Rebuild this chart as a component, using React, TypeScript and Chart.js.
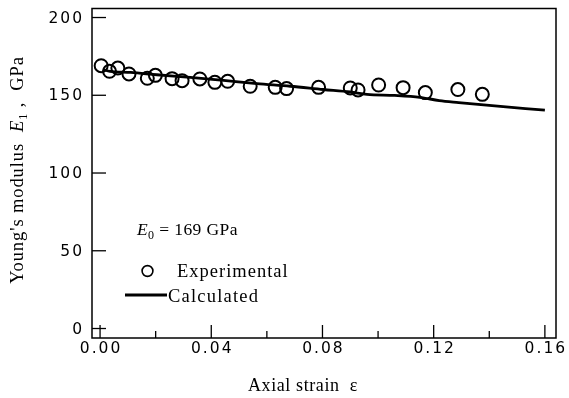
import React, { useEffect, useRef } from "react";
import { Chart, registerables } from "chart.js";
Chart.register(...registerables);

// Experimental points (axial strain, Young's modulus in GPa)
const expStrain = [0.0004, 0.0034, 0.0064, 0.0104, 0.017, 0.0199, 0.0259, 0.0295, 0.0359, 0.0413, 0.0459, 0.054, 0.063, 0.0671, 0.0786, 0.09, 0.0928, 0.1002, 0.109, 0.117, 0.1287, 0.1375];
const expModulus = [169.0, 165.4, 167.5, 163.7, 160.9, 162.8, 160.7, 159.4, 160.5, 158.3, 159.0, 155.8, 155.1, 154.3, 155.1, 154.7, 153.4, 156.6, 154.9, 151.7, 153.7, 150.6];

// Calculated curve
const calcStrain = [0.001, 0.0036, 0.011, 0.0204, 0.0324, 0.0444, 0.0564, 0.0684, 0.0803, 0.09, 0.096, 0.106, 0.115, 0.122, 0.129, 0.139, 0.16];
const calcModulus = [166.5, 165.4, 164.7, 163.2, 161.5, 159.6, 157.5, 155.8, 153.7, 152.1, 150.6, 149.9, 148.7, 146.6, 145.3, 143.6, 140.4];

// Ticks
const xTickValues = [0, 0.02, 0.04, 0.06, 0.08, 0.1, 0.12, 0.14, 0.16];
const xMajorValues = [0, 0.04, 0.08, 0.12, 0.16];
const xTickLabels = ["0.00", "0.04", "0.08", "0.12", "0.16"];
const yTickValues = [0, 50, 100, 150, 200];
const yTickLabels = ["0", "50", "100", "150", "200"];

const SERIF = "'Liberation Serif', 'Times New Roman', serif";
const SANS = "'DejaVu Sans', Arial, sans-serif";

function spacedWidth(ctx: CanvasRenderingContext2D, text: string, spacing: number) {
  (ctx as any).letterSpacing = spacing + "px";
  const w = ctx.measureText(text).width;
  return w - spacing;
}

function drawSegments(ctx: CanvasRenderingContext2D, segs: { t: string; font: string; dy?: number }[], x: number, y: number, spacing: number, center: boolean) {
  let total = 0;
  const widths: number[] = [];
  for (const s of segs) {
    ctx.font = s.font;
    (ctx as any).letterSpacing = spacing + "px";
    const w = ctx.measureText(s.t).width;
    widths.push(w);
    total += w;
  }
  let cx = center ? x - total / 2 : x;
  segs.forEach((s, i) => {
    ctx.font = s.font;
    (ctx as any).letterSpacing = spacing + "px";
    ctx.fillText(s.t, cx, y + (s.dy || 0));
    cx += widths[i];
  });
}

const decorPlugin = {
  id: "decor",
  afterDraw(chart: any) {
    const ctx: CanvasRenderingContext2D = chart.ctx;
    const xs = chart.scales.x;
    const ys = chart.scales.y;
    const a = chart.chartArea;
    ctx.save();
    ctx.strokeStyle = "#000";
    ctx.fillStyle = "#000";
    // frame
    ctx.lineWidth = 1.5;
    ctx.strokeRect(a.left, a.top, a.right - a.left, a.bottom - a.top);
    // x ticks (inward)
    ctx.lineWidth = 1.3;
    xs.ticks.forEach((t: any) => {
      const px = xs.getPixelForValue(t.value);
      const major = xMajorValues.some((v) => Math.abs(v - t.value) < 1e-9);
      const len = major ? 13 : 7;
      ctx.beginPath();
      ctx.moveTo(px, a.bottom);
      ctx.lineTo(px, a.bottom - len);
      ctx.stroke();
    });
    // y ticks (inward)
    ys.ticks.forEach((t: any) => {
      const py = ys.getPixelForValue(t.value);
      ctx.beginPath();
      ctx.moveTo(a.left, py);
      ctx.lineTo(a.left + 14, py);
      ctx.stroke();
    });
    // tick labels
    ctx.font = "15.5px " + SANS;
    ctx.textBaseline = "middle";
    ctx.textAlign = "left";
    const sp = 2;
    yTickValues.forEach((v, i) => {
      const py = ys.getPixelForValue(v);
      const w = spacedWidth(ctx, yTickLabels[i], sp);
      ctx.fillText(yTickLabels[i], 82 - w, py + 1);
    });
    xMajorValues.forEach((v, i) => {
      const px = xs.getPixelForValue(v);
      const w = spacedWidth(ctx, xTickLabels[i], sp);
      ctx.fillText(xTickLabels[i], px - w / 2, 349);
    });
    ctx.textBaseline = "alphabetic";
    // x title
    drawSegments(ctx, [{ t: "Axial strain  \u03b5", font: "18px " + SERIF }], 303, 391, 0.6, true);
    // y title
    ctx.save();
    ctx.translate(23, 170);
    ctx.rotate(-Math.PI / 2);
    drawSegments(
      ctx,
      [
        { t: "Young's modulus  ", font: "18.5px " + SERIF },
        { t: "E", font: "italic 18.5px " + SERIF },
        { t: "1", font: "12px " + SERIF, dy: 4 },
        { t: " ,  GPa", font: "18.5px " + SERIF },
      ],
      0,
      0,
      0.9,
      true
    );
    ctx.restore();
    // legend
    drawSegments(
      ctx,
      [
        { t: "E", font: "italic 17.5px " + SERIF },
        { t: "0", font: "12px " + SERIF, dy: 4 },
        { t: " = 169 GPa", font: "17.5px " + SERIF },
      ],
      137,
      235,
      0.4,
      false
    );
    ctx.lineWidth = 1.6;
    ctx.beginPath();
    ctx.arc(147.5, 271, 5.4, 0, Math.PI * 2);
    ctx.stroke();
    drawSegments(ctx, [{ t: "Experimental", font: "18.5px " + SERIF }], 177, 277, 1.0, false);
    ctx.lineWidth = 2.8;
    ctx.beginPath();
    ctx.moveTo(125, 295);
    ctx.lineTo(167, 295);
    ctx.stroke();
    drawSegments(ctx, [{ t: "Calculated", font: "18.5px " + SERIF }], 168, 302, 1.2, false);
    ctx.restore();
  },
};

export default function App() {
  const ref = useRef<HTMLCanvasElement>(null);
  useEffect(() => {
    if (!ref.current) return;
    const chart = new Chart(ref.current, {
      type: "scatter",
      data: {
        datasets: [
          {
            label: "Experimental",
            data: expStrain.map((x, i) => ({ x, y: expModulus[i] })),
            pointStyle: "circle",
            pointRadius: 6.5,
            pointBorderWidth: 2,
            borderColor: "#000",
            backgroundColor: "rgba(0,0,0,0)",
            showLine: false,
          },
          {
            label: "Calculated",
            data: calcStrain.map((x, i) => ({ x, y: calcModulus[i] })),
            showLine: true,
            pointRadius: 0,
            borderWidth: 2.8,
            borderColor: "#000",
            backgroundColor: "#000",
            cubicInterpolationMode: "monotone",
          },
        ],
      },
      options: {
        animation: false,
        responsive: false,
        devicePixelRatio: 1,
        layout: { padding: { left: 0, right: 13, top: 7, bottom: 0 } },
        plugins: { legend: { display: false }, tooltip: { enabled: false } },
        scales: {
          x: {
            type: "linear",
            min: -0.0029,
            max: 0.164,
            grid: { display: false },
            border: { display: false },
            ticks: { display: false },
            afterBuildTicks: (s: any) => {
              s.ticks = xTickValues.map((v) => ({ value: v }));
            },
            afterFit: (s: any) => {
              s.height = 60;
            },
          },
          y: {
            type: "linear",
            min: -6.1,
            max: 205.8,
            grid: { display: false },
            border: { display: false },
            ticks: { display: false },
            afterBuildTicks: (s: any) => {
              s.ticks = yTickValues.map((v) => ({ value: v }));
            },
            afterFit: (s: any) => {
              s.width = 92;
            },
          },
        },
      },
      plugins: [decorPlugin],
    } as any);
    return () => chart.destroy();
  }, []);
  return (
    <div style={{ position: "absolute", left: 0, top: 0, width: 569, height: 398, background: "#fff" }}>
      <canvas ref={ref} width={569} height={398} />
    </div>
  );
}
